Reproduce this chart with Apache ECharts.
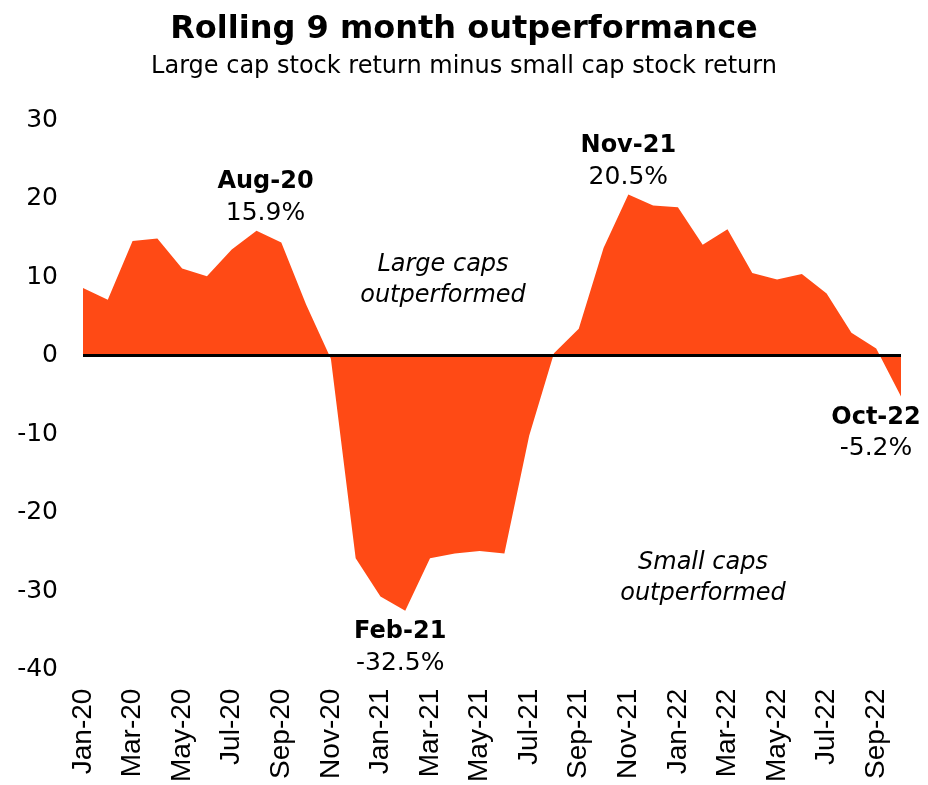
<!DOCTYPE html>
<html>
<head>
<meta charset="utf-8">
<script src="https://cdn.jsdelivr.net/npm/echarts@6/dist/echarts.min.js"></script>
<style>
  html, body { margin: 0; padding: 0; background: #fff; }
  #chart { width: 928px; height: 785px; }
</style>
</head>
<body>
<div id="chart"></div>
<script>
// months Jan-20 .. Oct-22
const months = [
  'Jan-20','Feb-20','Mar-20','Apr-20','May-20','Jun-20','Jul-20','Aug-20','Sep-20','Oct-20','Nov-20','Dec-20',
  'Jan-21','Feb-21','Mar-21','Apr-21','May-21','Jun-21','Jul-21','Aug-21','Sep-21','Oct-21','Nov-21','Dec-21',
  'Jan-22','Feb-22','Mar-22','Apr-22','May-22','Jun-22','Jul-22','Aug-22','Sep-22','Oct-22'
]
// large cap minus small cap, rolling 9m, %
const outperf = [
  8.6, 7.1, 14.6, 14.9, 11.1, 10.1, 13.5, 15.9, 14.4, 6.5, -0.4, -25.8,
  -30.7, -32.5, -25.8, -25.2, -24.9, -25.2, -10.2, 0.3, 3.4, 13.7, 20.5, 19.1,
  18.9, 14.1, 16.1, 10.5, 9.7, 10.4, 7.9, 2.9, 0.9, -5.2
]
const yTicks = [-40, -30, -20, -10, 0, 10, 20, 30]
const callouts = [
  { month: 'Aug-20', pos: 'top' },
  { month: 'Feb-21', pos: 'bottom' },
  { month: 'Nov-21', pos: 'top' },
  { month: 'Oct-22', pos: 'bottom' }
]

const FONT = '"Liberation Sans", Arial, sans-serif'
const WIDE = '"DejaVu Sans", sans-serif'
const ORANGE = '#ff4a15'

const chart = echarts.init(document.getElementById('chart'))

const markData = callouts.map(c => {
  const i = months.indexOf(c.month)
  const v = outperf[i]
  let off = [0, 0]
  if (c.month === 'Oct-22') off = [-25, 0]
  if (c.month === 'Feb-21') off = [-5, 0]
  if (c.month === 'Aug-20') off = [9, 0]
  return {
    coord: [c.month, v],
    label: {
      position: c.pos,
      distance: c.pos === 'top' ? 2 : 6,
      offset: off,
      formatter: '{b|' + c.month + '}\n{v|' + v.toFixed(1) + '%}'
    }
  }
})

const option = {
  animation: false,
  title: [
    {
      text: 'Rolling 9 month outperformance',
      left: 'center',
      top: 9,
      textStyle: { fontFamily: WIDE, fontWeight: 'bold', fontSize: 32, color: '#000' }
    },
    {
      text: 'Large cap stock return minus small cap stock return',
      left: 'center',
      top: 50,
      textStyle: { fontFamily: WIDE, fontWeight: 'normal', fontSize: 24, color: '#000' }
    }
  ],
  grid: { left: 83, right: 27, top: 120, bottom: 115 },
  xAxis: {
    type: 'category',
    data: months,
    boundaryGap: false,
    axisLine: { show: false },
    axisTick: { show: false },
    axisLabel: {
      interval: 1,
      rotate: 90,
      margin: 19,
      fontFamily: FONT,
      fontSize: 28,
      color: '#000'
    }
  },
  yAxis: {
    type: 'value',
    min: yTicks[0],
    max: yTicks[yTicks.length - 1],
    interval: 10,
    splitLine: { show: false },
    axisLine: { show: false },
    axisTick: { show: false },
    axisLabel: { fontFamily: WIDE, fontSize: 25, color: '#000', margin: 25 }
  },
  series: [{
    type: 'line',
    data: outperf,
    symbol: 'none',
    lineStyle: { width: 0 },
    areaStyle: { color: ORANGE, opacity: 1 },
    markLine: {
      silent: true,
      symbol: 'none',
      label: { show: false },
      lineStyle: { color: '#000', width: 3, type: 'solid' },
      data: [{ yAxis: 0 }]
    },
    markPoint: {
      symbol: 'circle',
      symbolSize: 0,
      label: {
        show: true,
        color: '#000',
        lineHeight: 31,
        rich: {
          b: { fontFamily: WIDE, fontWeight: 'bold', fontSize: 24, color: '#000', lineHeight: 31, align: 'center' },
          v: { fontFamily: WIDE, fontSize: 25, color: '#000', lineHeight: 31, align: 'center' }
        }
      },
      data: markData
    }
  }],
  graphic: [
    {
      type: 'text', x: 443, y: 280,
      style: {
        text: 'Large caps\noutperformed', font: 'oblique 24px ' + WIDE, fill: '#000',
        textAlign: 'center', textVerticalAlign: 'middle', lineHeight: 31
      }
    },
    {
      type: 'text', x: 703, y: 578,
      style: {
        text: 'Small caps\noutperformed', font: 'oblique 24px ' + WIDE, fill: '#000',
        textAlign: 'center', textVerticalAlign: 'middle', lineHeight: 31
      }
    }
  ]
}

chart.setOption(option)
</script>
</body>
</html>
